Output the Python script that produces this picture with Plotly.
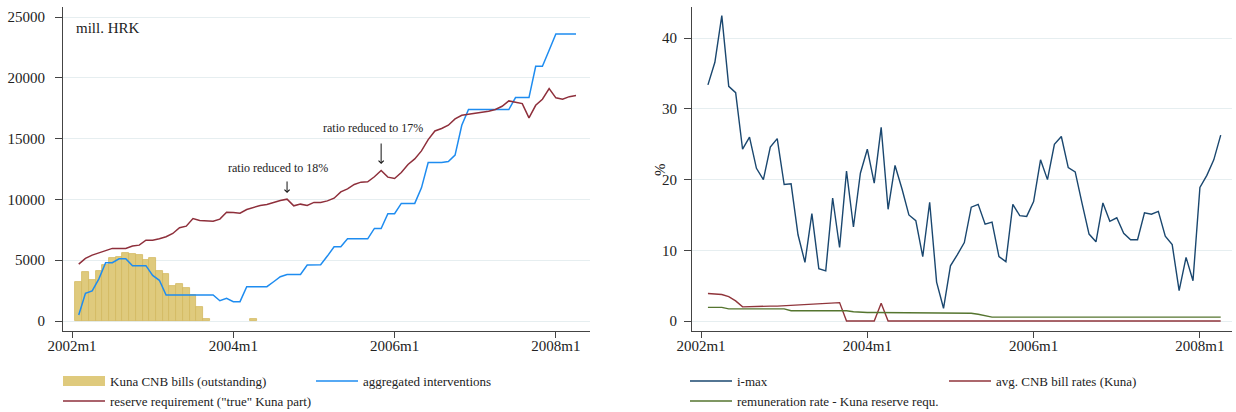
import plotly.graph_objects as go

# ---------------- data (monthly, 2002m2 .. 2008m4) ----------------
start_year, start_month = 2002, 2
n_months = 75
month_labels = []
y, mo = start_year, start_month
for _ in range(n_months):
    month_labels.append(f"{y}m{mo}")
    mo += 1
    if mo > 12:
        mo = 1
        y += 1
# month offset relative to 2002m1
month_pos = [(int(s.split("m")[0]) - 2002) * 12 + int(s.split("m")[1]) - 1 for s in month_labels]

tick_vals = [0, 24, 48, 72]
tick_text = ["2002m1", "2004m1", "2006m1", "2008m1"]

left_ticks = [0, 5000, 10000, 15000, 20000, 25000]
right_ticks = [0, 10, 20, 30, 40]

# left panel (mill. HRK)
kuna_cnb_bills = [3230, 4050, 3370, 4110, 4600, 5210, 5240, 5560, 5480, 5400,
                  5020, 5150, 4140, 3890, 2880, 3070, 2690, 2150, 1180, 140,
                  None, None, None, None, None, None, 140] + [None] * 48

aggregated_interventions = [490, 2270, 2470, 3470, 4790, 4790, 5120, 5120, 4550, 4550,
                            4550, 3750, 3350, 2140, 2140, 2140, 2140, 2140, 2140, 2140,
                            2140, 1670, 1860, 1590, 1590, 2820, 2820, 2820, 2820, 3230,
                            3640, 3830, 3830, 3830, 4600, 4620, 4620, 5340, 6110, 6110,
                            6760, 6760, 6760, 6760, 7610, 7610, 8820, 8820, 9670, 9670,
                            9670, 10950, 13030, 13030, 13030, 13110, 13640, 16100, 17390, 17390,
                            17390, 17390, 17390, 17390, 17390, 18370, 18370, 18370, 20950, 20950,
                            22260, 23600, 23600, 23600, 23600]

reserve_requirement = [4680, 5150, 5420, 5610, 5780, 5970, 5970, 5970, 6160, 6240,
                       6650, 6650, 6760, 6930, 7200, 7670, 7800, 8430, 8270, 8270,
                       8210, 8380, 8950, 8930, 8870, 9170, 9360, 9500, 9580, 9750,
                       9910, 10020, 9470, 9610, 9500, 9750, 9750, 9880, 10100, 10620,
                       10870, 11230, 11420, 11450, 11860, 12380, 11830, 11720, 12210, 12870,
                       13330, 13990, 14920, 15630, 15830, 16100, 16620, 16920, 17000, 17060,
                       17110, 17250, 17390, 17660, 18100, 18020, 17880, 16700, 17740, 18240,
                       19110, 18350, 18240, 18450, 18540]

# right panel (%)
i_max = [33.4, 36.6, 43.2, 33.2, 32.3, 24.3, 26.0, 21.6, 20.0, 24.6,
         25.8, 19.3, 19.4, 12.2, 8.3, 15.2, 7.4, 7.1, 17.4, 10.4,
         21.2, 13.3, 20.9, 24.3, 19.5, 27.4, 15.8, 22.0, 18.7, 15.0,
         14.2, 9.1, 16.8, 5.5, 1.8, 7.8, 9.4, 11.1, 16.1, 16.5,
         13.7, 14.0, 9.1, 8.4, 16.5, 14.9, 14.8, 16.9, 22.8, 20.0,
         25.0, 26.1, 21.7, 21.1, 16.6, 12.3, 11.2, 16.7, 14.1, 14.6,
         12.4, 11.5, 11.5, 15.3, 15.1, 15.5, 12.0, 10.8, 4.3, 9.0,
         5.7, 18.9, 20.6, 22.8, 26.3]

avg_cnb_bill_rates = [3.9, 3.85, 3.75, 3.45, 2.85, 2.0, 2.05, 2.05, 2.05, 2.1,
                      2.1, 2.15, 2.15, 2.2, 2.25, 2.3, 2.4, 2.5, 2.55, 2.6,
                      0, 0, 0, 0, 0, 2.5] + [0] * 49

remuneration_rate = [1.93, 1.93, 1.93] + [1.72] * 9 + [1.45] * 9 + [1.3] + [1.2] * 16 + \
                    [1.1, 0.95, 0.75] + [0.55] * 34

assert len(aggregated_interventions) == n_months
assert len(reserve_requirement) == n_months
assert len(i_max) == n_months
assert len(avg_cnb_bill_rates) == n_months
assert len(remuneration_rate) == n_months
assert len(kuna_cnb_bills) == n_months

# ---------------- styling ----------------
FONT = "Liberation Serif, Times New Roman, Times, serif"
W, H = 1236, 412
GRID = "#e6eef0"
AXIS = "#444444"
TXT = "#222222"
SAND = "#dfca7d"

fig = go.Figure()

fig.add_trace(go.Bar(x=month_pos, y=kuna_cnb_bills, name="Kuna CNB bills (outstanding)",
                     marker=dict(color=SAND, line=dict(color="#d2b860", width=0.8)),
                     width=1.0, xaxis="x", yaxis="y", showlegend=False))
# legend entry for the bars (wide swatch, as in the original legend key)
fig.add_trace(go.Scatter(x=[None], y=[None], name="Kuna CNB bills (outstanding)",
                         mode="lines", line=dict(color=SAND, width=16),
                         xaxis="x", yaxis="y", legend="legend", hoverinfo="skip"))
fig.add_trace(go.Scatter(x=month_pos, y=aggregated_interventions, name="aggregated interventions",
                         mode="lines", line=dict(color="#1e8cf0", width=1.5),
                         xaxis="x", yaxis="y", legend="legend2"))
fig.add_trace(go.Scatter(x=month_pos, y=reserve_requirement, name='reserve requirement ("true" Kuna part)',
                         mode="lines", line=dict(color="#8e2f3b", width=1.5),
                         xaxis="x", yaxis="y", legend="legend3"))

fig.add_trace(go.Scatter(x=month_pos, y=i_max, name="i-max",
                         mode="lines", line=dict(color="#1a476f", width=1.4),
                         xaxis="x2", yaxis="y2", legend="legend4"))
fig.add_trace(go.Scatter(x=month_pos, y=avg_cnb_bill_rates, name="avg. CNB bill rates (Kuna)",
                         mode="lines", line=dict(color="#90353b", width=1.4),
                         xaxis="x2", yaxis="y2", legend="legend5"))
fig.add_trace(go.Scatter(x=month_pos, y=remuneration_rate, name="remuneration rate - Kuna reserve requ.",
                         mode="lines", line=dict(color="#55752f", width=1.4),
                         xaxis="x2", yaxis="y2", legend="legend6"))

ydom = [81 / H, 405 / H]

def xax(domain, rng, anchor):
    return dict(domain=domain, range=rng, anchor=anchor, tickmode="array",
                tickvals=tick_vals, ticktext=tick_text,
                showgrid=False, zeroline=False, showline=True, linecolor=AXIS, linewidth=1,
                ticks="outside", ticklen=6, tickcolor=AXIS, automargin=False,
                ticklabelstandoff=-5,
                tickfont=dict(family=FONT, size=15, color=TXT), fixedrange=True)

def yax(domain, rng, tv, anchor, standoff):
    return dict(domain=domain, range=rng, anchor=anchor, tickmode="array", tickvals=tv,
                ticktext=[str(v) for v in tv],
                showgrid=True, gridcolor=GRID, gridwidth=1, zeroline=False,
                showline=True, linecolor=AXIS, linewidth=1, automargin=False,
                ticks="outside", ticklen=7, tickcolor=AXIS, ticklabelstandoff=standoff,
                tickfont=dict(family=FONT, size=15, color=TXT), fixedrange=True)

def leg(px_x, px_y):
    return dict(x=(px_x - 5) / W, y=1 - px_y / H, xanchor="left", yanchor="middle",
                orientation="h", itemwidth=42, bgcolor="rgba(0,0,0,0)", borderwidth=0,
                font=dict(family=FONT, size=13, color=TXT))

fig.update_layout(
    width=W, height=H,
    margin=dict(l=0, r=0, t=0, b=0, pad=0, autoexpand=False),
    paper_bgcolor="white", plot_bgcolor="white",
    bargap=0,
    showlegend=True,
    xaxis=xax([63 / W, 590 / W], [-1.34, 77.08], "y"),
    yaxis=yax(ydom, [-822, 25822], left_ticks, "x", 7),
    xaxis2=xax([692 / W, 1232 / W], [-1.30, 76.63], "y2"),
    yaxis2=yax(ydom, [-1.415, 44.42], right_ticks, "x2", 4),
    legend=leg(63, 381),
    legend2=leg(316, 381),
    legend3=leg(63, 401),
    legend4=leg(690, 381),
    legend5=leg(949, 381),
    legend6=leg(690, 401),
    font=dict(family=FONT, color=TXT),
)

annotations = [
    dict(text="mill. HRK", xref="paper", yref="paper", x=74 / W, y=1 - 28 / H,
         xanchor="left", yanchor="middle", showarrow=False,
         font=dict(family=FONT, size=15, color=TXT)),
    dict(text="%", xref="paper", yref="paper", x=660 / W, y=1 - 170 / H,
         xanchor="center", yanchor="middle", textangle=-90, showarrow=False,
         font=dict(family=FONT, size=15, color=TXT)),
    dict(text="ratio reduced to 18%", xref="x", yref="y", x=30.6, y=12580,
         xanchor="center", yanchor="middle", showarrow=False,
         font=dict(family=FONT, size=12, color=TXT)),
    dict(text="ratio reduced to 17%", xref="x", yref="y", x=44.8, y=15910,
         xanchor="center", yanchor="middle", showarrow=False,
         font=dict(family=FONT, size=12, color=TXT)),
    dict(text="", xref="x", yref="y", x=32, y=10530, ax=0, ay=-13,
         showarrow=True, arrowhead=4, arrowsize=1, arrowwidth=1, arrowcolor="#111111", standoff=0),
    dict(text="", xref="x", yref="y", x=46, y=12910, ax=0, ay=-22,
         showarrow=True, arrowhead=4, arrowsize=1, arrowwidth=1, arrowcolor="#111111", standoff=0),
]
fig.update_layout(annotations=annotations)

fig.write_html("out.html")
